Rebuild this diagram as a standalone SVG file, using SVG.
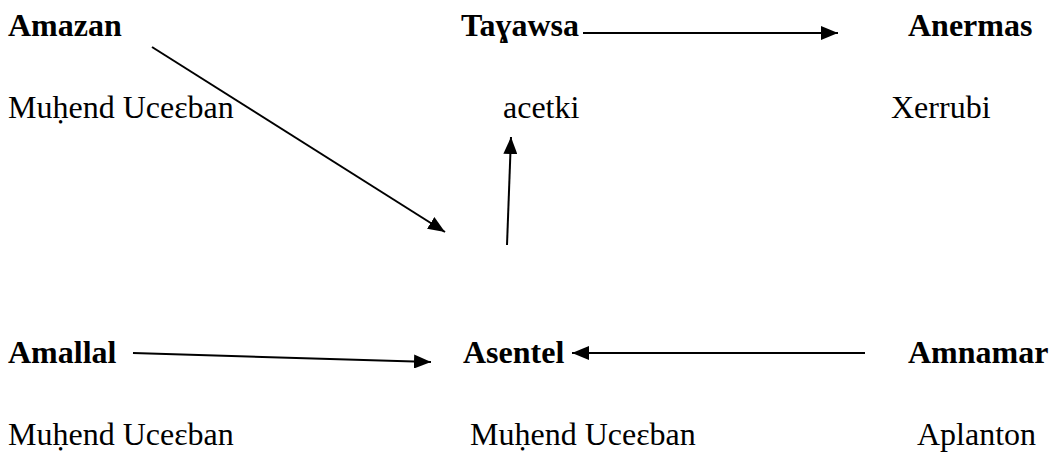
<svg xmlns="http://www.w3.org/2000/svg" width="1050" height="453" viewBox="0 0 1050 453">
<style>
text{font-family:"Liberation Serif","DejaVu Serif",serif;font-size:32px;fill:#000}
.b{font-weight:bold}
.c line{stroke:#000;stroke-width:2;fill:none}
</style>
<defs>
<marker id="ah" markerUnits="userSpaceOnUse" viewBox="0 0 17 14" refX="17" refY="7" markerWidth="17" markerHeight="14" orient="auto">
<path d="M0,0 L17,7 L0,14 Z" fill="#000"/>
</marker>
</defs>
<rect width="1050" height="453" fill="#fff"/>
<g id="amazan"><text class="b" x="8" y="36">Amazan</text><text x="8" y="118">Muḥend Uceɛban</text></g>
<g id="tayawsa"><text class="b" x="461" y="36">Taɣawsa</text><text x="503" y="118">acetki</text></g>
<g id="anermas"><text class="b" x="908" y="36">Anermas</text><text x="891" y="118">Xerrubi</text></g>
<g id="amallal"><text class="b" x="8" y="363">Amallal</text><text x="8" y="445">Muḥend Uceɛban</text></g>
<g id="asentel"><text class="b" x="463" y="363">Asentel</text><text x="470" y="445">Muḥend Uceɛban</text></g>
<g id="amnamar"><text class="b" x="908" y="363">Amnamar</text><text x="917" y="445">Aplanton</text></g>
<g class="c" id="connectors">
<line x1="583" y1="33" x2="838" y2="33" marker-end="url(#ah)"/>
<line x1="152" y1="47" x2="445" y2="232" marker-end="url(#ah)"/>
<line x1="507" y1="245" x2="511" y2="137" marker-end="url(#ah)"/>
<line x1="133" y1="353" x2="431" y2="362" marker-end="url(#ah)"/>
<line x1="865" y1="353" x2="572" y2="353" marker-end="url(#ah)"/>
</g>
</svg>
